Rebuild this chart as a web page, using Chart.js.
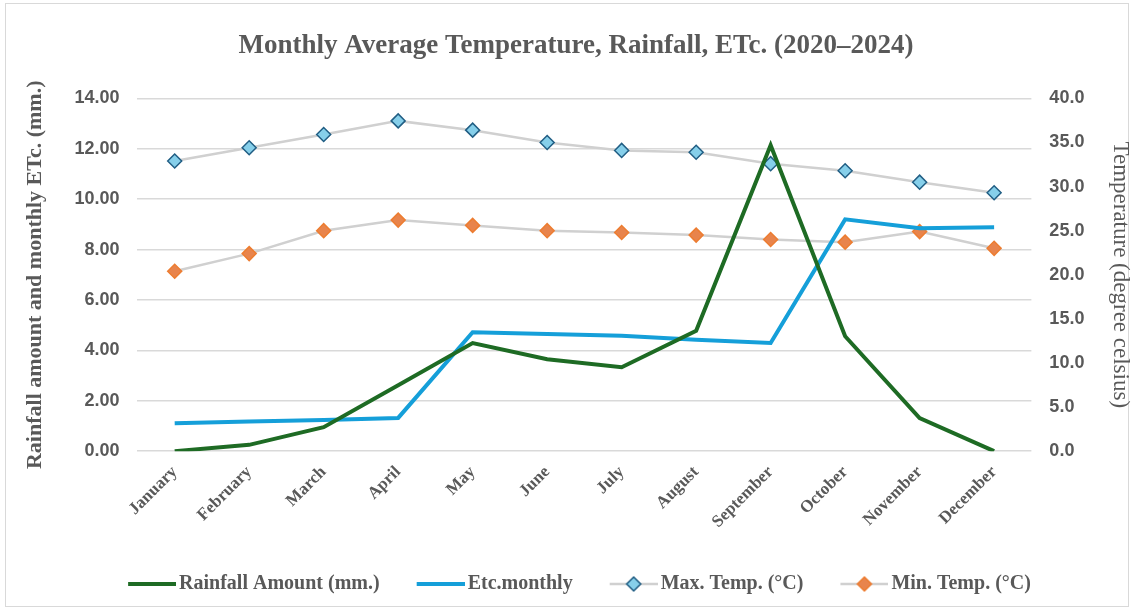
<!DOCTYPE html>
<html>
<head>
<meta charset="utf-8">
<script src="https://cdn.jsdelivr.net/npm/chart.js@4"></script>
<style>
  html, body { margin: 0; padding: 0; background: #fff; }
  #wrap { position: relative; width: 1134px; height: 609px; }
  #frame { position: absolute; left: 5px; top: 3px; right: 5px; bottom: 2px; border: 1px solid #d9d9d9; }
  canvas { position: absolute; left: 0; top: 0; }
</style>
</head>
<body>
<div id="wrap">
  <div id="frame"></div>
  <canvas id="chart" width="1134" height="609"></canvas>
</div>
<script>
const months = ['January', 'February', 'March', 'April', 'May', 'June', 'July',
  'August', 'September', 'October', 'November', 'December'];
const rainfall = [0, 0.25, 0.95, 2.62, 4.29, 3.65, 3.33, 4.78, 12.14, 4.56, 1.31, 0];
const etcMonthly = [1.11, 1.18, 1.24, 1.32, 4.72, 4.65, 4.58, 4.42, 4.29, 9.2, 8.85, 8.89];
const maxTemp = [32.9, 34.4, 35.9, 37.45, 36.4, 35.0, 34.1, 33.9, 32.6, 31.8, 30.5, 29.3];
const minTemp = [20.4, 22.4, 25.0, 26.2, 25.6, 25.0, 24.8, 24.5, 24.0, 23.7, 24.9, 23.0];

const textGrey = '#595959';
const serif = "'Liberation Serif', 'Times New Roman', serif";
const sans = "'Liberation Sans', Arial, sans-serif";

// little legend swatches: a line, optionally with a diamond in the middle
function swatch(lineColor, lineWidth, fill, stroke) {
  const c = document.createElement('canvas');
  c.width = 62;
  c.height = 18;
  const g = c.getContext('2d');
  g.strokeStyle = lineColor;
  g.lineWidth = lineWidth;
  g.beginPath();
  g.moveTo(14, 9);
  g.lineTo(62, 9);
  g.stroke();
  if (fill) {
    g.fillStyle = fill;
    g.strokeStyle = stroke;
    g.lineWidth = 1.5;
    g.beginPath();
    g.moveTo(38, 2);
    g.lineTo(45, 9);
    g.lineTo(38, 16);
    g.lineTo(31, 9);
    g.closePath();
    g.fill();
    g.stroke();
  }
  return c;
}

const datasets = [
  {
    label: 'Rainfall Amount (mm.)',
    data: rainfall,
    yAxisID: 'y',
    borderColor: '#1e6b24',
    borderWidth: 4,
    pointRadius: 0,
    legendIcon: swatch('#1e6b24', 4),
  },
  {
    label: 'Etc.monthly',
    data: etcMonthly,
    yAxisID: 'y',
    borderColor: '#159fd9',
    borderWidth: 4,
    pointRadius: 0,
    legendIcon: swatch('#159fd9', 4),
  },
  {
    label: 'Max. Temp. (°C)',
    data: maxTemp,
    yAxisID: 'y1',
    borderColor: '#d0d0d0',
    borderWidth: 2.5,
    pointStyle: 'rectRot',
    pointRadius: 7,
    pointBackgroundColor: '#86cfea',
    pointBorderColor: '#215e84',
    pointBorderWidth: 1.5,
    legendIcon: swatch('#d0d0d0', 2.5, '#86cfea', '#215e84'),
  },
  {
    label: 'Min. Temp. (°C)',
    data: minTemp,
    yAxisID: 'y1',
    borderColor: '#d0d0d0',
    borderWidth: 2.5,
    pointStyle: 'rectRot',
    pointRadius: 7,
    pointBackgroundColor: '#e8844c',
    pointBorderColor: '#ed7d31',
    pointBorderWidth: 1.5,
    legendIcon: swatch('#d0d0d0', 2.5, '#e8844c', '#ed7d31'),
  },
];

new Chart(document.getElementById('chart'), {
  type: 'line',
  data: { labels: months, datasets },
  options: {
    responsive: false,
    animation: false,
    layout: { padding: { left: 18, right: 0, bottom: 5 } },
    elements: { line: { tension: 0 } },
    plugins: {
      title: {
        display: true,
        text: 'Monthly Average Temperature, Rainfall, ETc. (2020–2024)',
        color: textGrey,
        font: { family: serif, size: 27, weight: 'bold' },
        padding: { top: 30, bottom: 36 },
      },
      legend: {
        position: 'bottom',
        labels: {
          usePointStyle: true,
          pointStyleWidth: 48,
          padding: 30,
          color: textGrey,
          font: { family: serif, size: 20, weight: 'bold' },
          generateLabels(chart) {
            return chart.data.datasets.map((ds, i) => ({
              text: ds.label,
              pointStyle: ds.legendIcon,
              fontColor: textGrey,
              datasetIndex: i,
              hidden: false,
            }));
          },
        },
      },
      tooltip: { enabled: false },
    },
    scales: {
      x: {
        offset: true,
        grid: { display: false },
        border: { display: false },
        ticks: {
          minRotation: 45,
          maxRotation: 45,
          color: textGrey,
          font: { family: serif, size: 17, weight: 'bold' },
        },
        // leave a little room between the month names and the legend
        afterFit(axis) {
          axis.height += 9;
        },
      },
      y: {
        position: 'left',
        min: 0,
        max: 14,
        border: { display: false },
        grid: { color: '#d9d9d9', lineWidth: 1.5, drawTicks: false },
        ticks: {
          stepSize: 2,
          padding: 18,
          color: textGrey,
          font: { family: sans, size: 18, weight: 'bold' },
          callback: (v) => v.toFixed(2),
        },
        title: {
          display: true,
          text: 'Rainfall amount and monthly ETc. (mm.)',
          color: textGrey,
          font: { family: serif, size: 22, weight: 'bold' },
          padding: { bottom: 8 },
        },
      },
      y1: {
        position: 'right',
        min: 0,
        max: 40,
        border: { display: false },
        grid: { drawOnChartArea: false, drawTicks: false },
        ticks: {
          stepSize: 5,
          padding: 18,
          color: textGrey,
          font: { family: sans, size: 18, weight: 'bold' },
          callback: (v) => v.toFixed(1),
        },
        title: {
          display: true,
          text: 'Temperature (degree celsius)',
          color: textGrey,
          font: { family: serif, size: 23 },
          padding: { top: 0 },
        },
      },
    },
  },
});
</script>
</body>
</html>
